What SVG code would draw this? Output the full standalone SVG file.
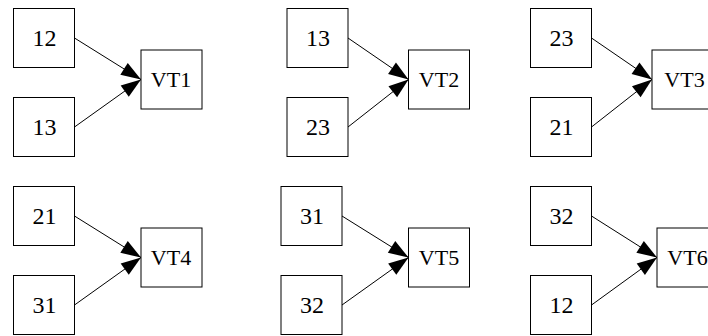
<svg xmlns="http://www.w3.org/2000/svg" width="708" height="336" viewBox="0 0 708 336">
<style>
.n rect{fill:#fff;stroke:#000;stroke-width:1}
.n text{font-size:24px;text-anchor:middle;fill:#000}
.n text.v{font-size:22px}
.e line{stroke:#000;stroke-width:1;marker-end:url(#ah)}
</style>
<defs>
<marker id="ah" markerUnits="userSpaceOnUse" markerWidth="20" markerHeight="14" refX="20" refY="7" orient="auto" overflow="visible">
<path d="M0,0 L20,7 L0,14 z" fill="#000"/>
</marker>
</defs>
<rect width="708" height="336" fill="#fff"/>
<g id="edges" class="e">
<line x1="74.5" y1="38" x2="141" y2="79.5"/>
<line x1="74.5" y1="127" x2="141" y2="79.5"/>
<line x1="348" y1="38" x2="408.5" y2="79.5"/>
<line x1="348" y1="127" x2="408.5" y2="79.5"/>
<line x1="591.5" y1="38" x2="652" y2="79.5"/>
<line x1="591.5" y1="127" x2="652" y2="79.5"/>
<line x1="74.5" y1="216" x2="141" y2="257.5"/>
<line x1="74.5" y1="305" x2="141" y2="257.5"/>
<line x1="342" y1="216" x2="408.5" y2="257.5"/>
<line x1="342" y1="305" x2="408.5" y2="257.5"/>
<line x1="591.5" y1="216" x2="657" y2="257.5"/>
<line x1="591.5" y1="305" x2="657" y2="257.5"/>
</g>
<g font-family="Liberation Serif, serif">
<g id="n1a" class="n"><rect x="13.5" y="8.5" width="61" height="59"/><text x="44.5" y="45.5">12</text></g>
<g id="n1b" class="n"><rect x="13.5" y="97.5" width="61" height="59"/><text x="44.5" y="134.5">13</text></g>
<g id="vt1" class="n"><rect x="141" y="50" width="61" height="59"/><text class="v" x="171" y="87">VT1</text></g>
<g id="n2a" class="n"><rect x="287" y="8.5" width="61" height="59"/><text x="318" y="45.5">13</text></g>
<g id="n2b" class="n"><rect x="287" y="97.5" width="61" height="59"/><text x="318" y="134.5">23</text></g>
<g id="vt2" class="n"><rect x="408.5" y="50" width="61" height="59"/><text class="v" x="439" y="87">VT2</text></g>
<g id="n3a" class="n"><rect x="530.5" y="8.5" width="61" height="59"/><text x="561.5" y="45.5">23</text></g>
<g id="n3b" class="n"><rect x="530.5" y="97.5" width="61" height="59"/><text x="561.5" y="134.5">21</text></g>
<g id="vt3" class="n"><rect x="652" y="50" width="61" height="59"/><text class="v" x="684.5" y="87">VT3</text></g>
<g id="n4a" class="n"><rect x="13.5" y="186.5" width="61" height="59"/><text x="44.5" y="223.5">21</text></g>
<g id="n4b" class="n"><rect x="13.5" y="275.5" width="61" height="59"/><text x="44.5" y="312.5">31</text></g>
<g id="vt4" class="n"><rect x="141" y="228" width="61" height="59"/><text class="v" x="171" y="265">VT4</text></g>
<g id="n5a" class="n"><rect x="281" y="186.5" width="61" height="59"/><text x="312" y="223.5">31</text></g>
<g id="n5b" class="n"><rect x="281" y="275.5" width="61" height="59"/><text x="312" y="312.5">32</text></g>
<g id="vt5" class="n"><rect x="408.5" y="228" width="61" height="59"/><text class="v" x="439" y="265">VT5</text></g>
<g id="n6a" class="n"><rect x="530.5" y="186.5" width="61" height="59"/><text x="561.5" y="223.5">32</text></g>
<g id="n6b" class="n"><rect x="530.5" y="275.5" width="61" height="59"/><text x="561.5" y="312.5">12</text></g>
<g id="vt6" class="n"><rect x="657" y="228" width="61" height="59"/><text class="v" x="687.5" y="265">VT6</text></g>
</g>
</svg>
